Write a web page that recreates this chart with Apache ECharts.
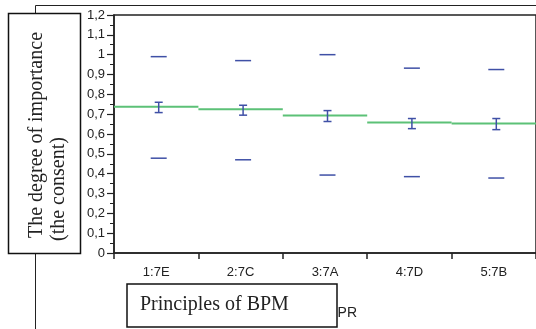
<!DOCTYPE html>
<html>
<head>
<meta charset="utf-8">
<script src="https://cdn.jsdelivr.net/npm/echarts@6/dist/echarts.min.js"></script>
<style>html,body{margin:0;padding:0;background:#fff;}#c{width:536px;height:329px;}</style>
</head>
<body>
<div id="c"></div>
<script>
const categories = ['1:7E', '2:7C', '3:7A', '4:7D', '5:7B'];
const meanValues = [0.738, 0.725, 0.693, 0.658, 0.653];
const ciLower = [0.708, 0.695, 0.663, 0.627, 0.622];
const ciUpper = [0.760, 0.745, 0.718, 0.678, 0.678];
const maxValues = [0.990, 0.970, 1.000, 0.932, 0.925];
const minValues = [0.478, 0.470, 0.393, 0.385, 0.378];
const yMin = 0, yMax = 1.2, yStep = 0.1;
const yTitleLines = ['The degree of importance', '(the consent)'];
const xTitle = 'Principles of BPM';
const xAxisName = 'Principles by PR';

const markOffset = 2.5;
const blue = '#3f50a6';
const green = '#5cc177';

const chart = echarts.init(document.getElementById('c'), null, {renderer: 'canvas'});

function meanItem(params, api) {
  const p = api.coord([api.value(0), api.value(1)]);
  const w = api.size([1, 0])[0];
  return {type: 'line', shape: {x1: p[0] - w / 2, y1: p[1], x2: p[0] + w / 2, y2: p[1]},
    style: {stroke: green, lineWidth: 2}};
}
function errItem(params, api) {
  const lo = api.coord([api.value(0), api.value(1)]);
  const hi = api.coord([api.value(0), api.value(2)]);
  const x = lo[0] + markOffset, cap = 4;
  const st = {stroke: blue, lineWidth: 1.5};
  return {type: 'group', children: [
    {type: 'line', shape: {x1: x, y1: lo[1], x2: x, y2: hi[1]}, style: st},
    {type: 'line', shape: {x1: x - cap, y1: lo[1], x2: x + cap, y2: lo[1]}, style: st},
    {type: 'line', shape: {x1: x - cap, y1: hi[1], x2: x + cap, y2: hi[1]}, style: st}
  ]};
}
function dashItem(params, api) {
  const p = api.coord([api.value(0), api.value(1)]);
  const x = p[0] + markOffset, half = 8;
  return {type: 'line', shape: {x1: x - half, y1: p[1], x2: x + half, y2: p[1]},
    style: {stroke: blue, lineWidth: 1.5}};
}

const axisColor = '#222';
const serifFont = '20px "Liberation Serif", "Times New Roman", serif';
const option = {
  animation: false,
  backgroundColor: '#fff',
  grid: {left: 114, right: 0, top: 15, bottom: 76, show: true, borderColor: axisColor, borderWidth: 1.5, backgroundColor: 'transparent'},
  xAxis: {
    type: 'category', data: categories, boundaryGap: true,
    axisLine: {lineStyle: {color: axisColor, width: 1.5}},
    axisTick: {show: true, length: 6, lineStyle: {color: axisColor, width: 1.5}},
    axisLabel: {color: '#222', fontFamily: '"Liberation Sans", Arial', fontSize: 13, margin: 13},
    splitLine: {show: false}
  },
  yAxis: {
    type: 'value', min: yMin, max: yMax, interval: yStep,
    axisLine: {show: true, lineStyle: {color: axisColor, width: 1.5}},
    axisTick: {show: true, length: 7, lineStyle: {color: axisColor, width: 1.2}},
    minorTick: {show: true, splitNumber: 2, length: 4, lineStyle: {color: axisColor, width: 1}},
    axisLabel: {color: '#222', fontFamily: '"Liberation Sans", Arial', fontSize: 13, margin: 9,
      formatter: v => String(+v.toFixed(1)).replace('.', ',')},
    splitLine: {show: false}
  },
  series: [
    {type: 'custom', renderItem: meanItem, data: meanValues.map((v, i) => [i, v]), z: 2},
    {type: 'custom', renderItem: errItem, data: ciLower.map((v, i) => [i, v, ciUpper[i]]), z: 3},
    {type: 'custom', renderItem: dashItem, data: maxValues.map((v, i) => [i, v]), z: 3},
    {type: 'custom', renderItem: dashItem, data: minValues.map((v, i) => [i, v]), z: 3}
  ],
  graphic: [
    {type: 'polyline', z: 1, shape: {points: [[536, 5.5], [35.5, 5.5], [35.5, 329]]},
      style: {stroke: axisColor, lineWidth: 1, fill: null}},
    {type: 'text', z: 5, x: 357, y: 313,
      style: {text: xAxisName, font: '14px "Liberation Sans", Arial', fill: '#222',
        textAlign: 'right', textVerticalAlign: 'middle', align: 'right', verticalAlign: 'middle'}},
    {type: 'rect', z: 10, shape: {x: 8.5, y: 13.5, width: 72, height: 240},
      style: {fill: '#fff', stroke: '#111', lineWidth: 1.5}},
    {type: 'text', z: 11, x: 37, y: 238, rotation: Math.PI / 2,
      style: {text: yTitleLines[0], font: serifFont, fill: '#222',
        textAlign: 'left', textVerticalAlign: 'middle', align: 'left', verticalAlign: 'middle'}},
    {type: 'text', z: 11, x: 59, y: 241, rotation: Math.PI / 2,
      style: {text: yTitleLines[1], font: serifFont, fill: '#222',
        textAlign: 'left', textVerticalAlign: 'middle', align: 'left', verticalAlign: 'middle'}},
    {type: 'rect', z: 10, shape: {x: 127, y: 284, width: 210, height: 43},
      style: {fill: '#fff', stroke: '#111', lineWidth: 1.5}},
    {type: 'text', z: 11, x: 140, y: 305,
      style: {text: xTitle, font: serifFont, fill: '#222',
        textAlign: 'left', textVerticalAlign: 'middle', align: 'left', verticalAlign: 'middle'}}
  ]
};
chart.setOption(option);
</script>
</body>
</html>
